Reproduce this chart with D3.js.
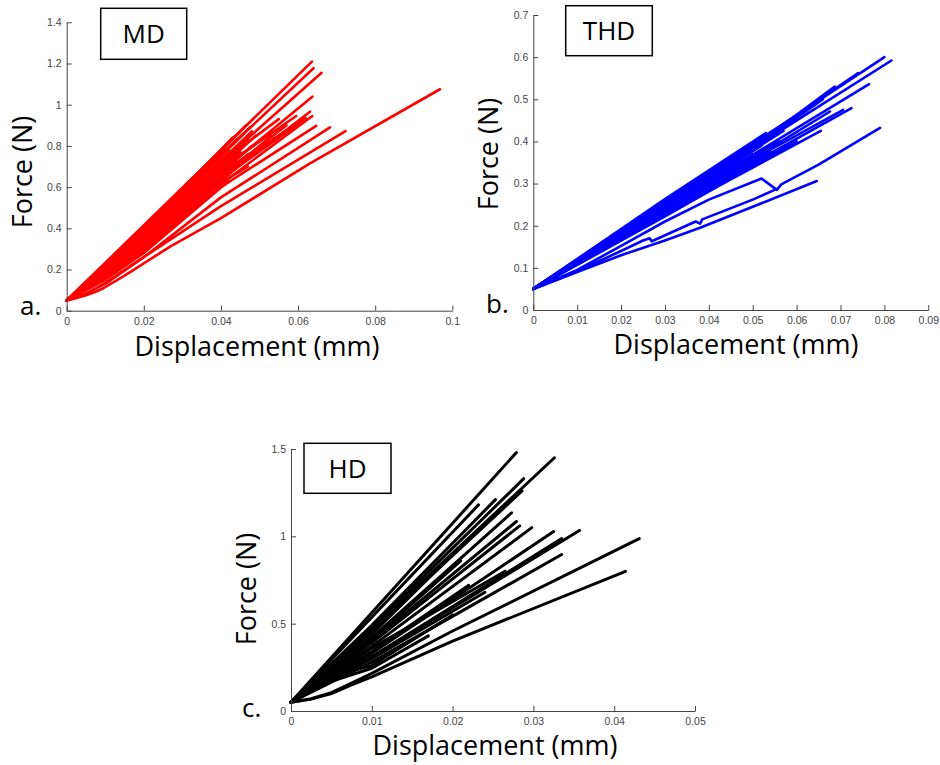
<!DOCTYPE html>
<html><head><meta charset="utf-8">
<script src="https://cdn.jsdelivr.net/npm/d3@7"></script>
<style>body{margin:0;background:#fff} svg{display:block}</style>
</head><body>
<svg id="chart" width="940" height="765"></svg>
<script>
// ---------- DATA ----------
// Panel a (MD): force (N) vs displacement (mm) curves, [x, y]
const mdXTicks = [0, 0.02, 0.04, 0.06, 0.08, 0.1];
const mdXTickLabels = ["0", "0.02", "0.04", "0.06", "0.08", "0.1"];
const mdYTicks = [0, 0.2, 0.4, 0.6, 0.8, 1, 1.2, 1.4];
const mdYTickLabels = ["0", "0.2", "0.4", "0.6", "0.8", "1", "1.2", "1.4"];
const mdCurves = [
  [[0,0.05],[0.0636,1.209]],
  [[0,0.05],[0.03,0.58],[0.064,1.177]],
  [[0,0.05],[0.03,0.555],[0.0661,1.155]],
  [[0,0.05],[0.03,0.52],[0.0637,1.039]],
  [[0,0.05],[0.03,0.49],[0.0631,0.966]],
  [[0,0.05],[0.03,0.475],[0.0637,0.945]],
  [[0,0.05],[0.02,0.30],[0.04,0.60],[0.0647,0.897]],
  [[0,0.05],[0.02,0.41],[0.0465,0.90]],
  [[0,0.05],[0.02,0.405],[0.045,0.87]],
  [[0,0.05],[0.02,0.40],[0.0475,0.89]],
  [[0,0.05],[0.02,0.395],[0.043,0.84]],
  [[0,0.05],[0.02,0.39],[0.044,0.83]],
  [[0,0.05],[0.02,0.385],[0.046,0.86]],
  [[0,0.05],[0.02,0.38],[0.041,0.79]],
  [[0,0.05],[0.02,0.375],[0.042,0.78]],
  [[0,0.05],[0.02,0.37],[0.048,0.87]],
  [[0,0.05],[0.02,0.365],[0.044,0.79]],
  [[0,0.05],[0.02,0.36],[0.045,0.80]],
  [[0,0.05],[0.02,0.355],[0.047,0.83]],
  [[0,0.05],[0.02,0.35],[0.043,0.75]],
  [[0,0.05],[0.02,0.345],[0.049,0.85]],
  [[0,0.05],[0.02,0.34],[0.045,0.77]],
  [[0,0.05],[0.02,0.335],[0.046,0.77]],
  [[0,0.05],[0.02,0.33],[0.048,0.80]],
  [[0,0.05],[0.02,0.325],[0.044,0.72]],
  [[0,0.05],[0.02,0.32],[0.046,0.74]],
  [[0,0.05],[0.01,0.17],[0.02,0.31],[0.047,0.76]],
  [[0,0.05],[0.01,0.165],[0.02,0.305],[0.043,0.69]],
  [[0,0.05],[0.01,0.16],[0.02,0.30],[0.045,0.71]],
  [[0,0.05],[0.01,0.155],[0.02,0.29],[0.04,0.62],[0.047,0.70]],
  [[0,0.05],[0.01,0.15],[0.02,0.28],[0.042,0.63]],
  [[0,0.05],[0.02,0.36],[0.04,0.72],[0.055,0.93]],
  [[0,0.05],[0.02,0.355],[0.04,0.69],[0.0595,0.945]],
  [[0,0.05],[0.02,0.34],[0.04,0.67],[0.062,0.935]],
  [[0,0.05],[0.02,0.33],[0.04,0.655],[0.057,0.90]],
  [[0,0.05],[0.02,0.32],[0.04,0.64],[0.061,0.92]],
  [[0,0.05],[0.02,0.315],[0.04,0.63],[0.053,0.85]],
  [[0,0.05],[0.0025,0.062],[0.005,0.075],[0.0075,0.092],[0.0095,0.109],[0.015,0.17],[0.0268,0.311],[0.04,0.449],[0.0631,0.715],[0.0968,1.075]],
  [[0,0.05],[0.0025,0.063],[0.005,0.08],[0.01,0.135],[0.0182,0.238],[0.0398,0.505],[0.0723,0.872]],
  [[0,0.05],[0.005,0.085],[0.01,0.13],[0.02,0.26],[0.04,0.55],[0.0683,0.89]]
];

// Panel b (THD)
const thdXTicks = [0, 0.01, 0.02, 0.03, 0.04, 0.05, 0.06, 0.07, 0.08, 0.09];
const thdXTickLabels = ["0", "0.01", "0.02", "0.03", "0.04", "0.05", "0.06", "0.07", "0.08", "0.09"];
const thdYTicks = [0, 0.1, 0.2, 0.3, 0.4, 0.5, 0.6, 0.7];
const thdYTickLabels = ["0", "0.1", "0.2", "0.3", "0.4", "0.5", "0.6", "0.7"];
const thdCurves = [
  [[0,0.05],[0.08,0.600]],
  [[0,0.05],[0.04,0.318],[0.0816,0.592]],
  [[0,0.05],[0.04,0.305],[0.0765,0.536]],
  [[0,0.05],[0.04,0.29],[0.0725,0.479]],
  [[0,0.05],[0.04,0.282],[0.0655,0.425]],
  [[0,0.05],[0.04,0.32],[0.074,0.562]],
  [[0,0.05],[0.04,0.31],[0.0687,0.530]],
  [[0,0.05],[0.04,0.30],[0.0706,0.475]],
  [[0,0.05],[0.04,0.295],[0.0676,0.471]],
  [[0,0.05],[0.04,0.31],[0.066,0.50]],
  [[0,0.05],[0.03,0.26],[0.062,0.475]],
  [[0,0.05],[0.03,0.257],[0.060,0.455]],
  [[0,0.05],[0.03,0.254],[0.058,0.44]],
  [[0,0.05],[0.03,0.251],[0.055,0.42]],
  [[0,0.05],[0.03,0.248],[0.057,0.425]],
  [[0,0.05],[0.03,0.245],[0.052,0.39]],
  [[0,0.05],[0.03,0.242],[0.05,0.37]],
  [[0,0.05],[0.03,0.239],[0.056,0.40]],
  [[0,0.05],[0.03,0.236],[0.048,0.35]],
  [[0,0.05],[0.03,0.233],[0.054,0.375]],
  [[0,0.05],[0.03,0.23],[0.05,0.345]],
  [[0,0.05],[0.03,0.227],[0.058,0.39]],
  [[0,0.05],[0.03,0.224],[0.047,0.33]],
  [[0,0.05],[0.03,0.222],[0.06,0.40]],
  [[0,0.05],[0.03,0.263],[0.053,0.42]],
  [[0,0.05],[0.03,0.255],[0.045,0.36]],
  [[0,0.05],[0.02,0.17],[0.047,0.33]],
  [[0,0.05],[0.01,0.095],[0.02,0.152],[0.03,0.21],[0.04,0.262],[0.052,0.312],[0.0555,0.285],[0.0565,0.298],[0.065,0.345],[0.079,0.432]],
  [[0,0.05],[0.01,0.092],[0.02,0.14],[0.025,0.165],[0.0265,0.17],[0.027,0.163],[0.037,0.21],[0.038,0.205],[0.0385,0.215],[0.05,0.262],[0.055,0.285]],
  [[0,0.05],[0.01,0.09],[0.02,0.13],[0.03,0.165],[0.038,0.195],[0.05,0.245],[0.0646,0.306]]
];

// Panel c (HD)
const hdXTicks = [0, 0.01, 0.02, 0.03, 0.04, 0.05];
const hdXTickLabels = ["0", "0.01", "0.02", "0.03", "0.04", "0.05"];
const hdYTicks = [0, 0.5, 1, 1.5];
const hdYTickLabels = ["0", "0.5", "1", "1.5"];
const hdCurves = [
  [[0,0.05],[0.0279,1.48]],
  [[0,0.05],[0.0232,1.18]],
  [[0,0.05],[0.01,0.47],[0.0326,1.45]],
  [[0,0.05],[0.01,0.48],[0.0288,1.33]],
  [[0,0.05],[0.01,0.46],[0.0286,1.26]],
  [[0,0.05],[0.01,0.49],[0.0253,1.21]],
  [[0,0.05],[0.01,0.42],[0.0273,1.135]],
  [[0,0.05],[0.01,0.40],[0.0279,1.085]],
  [[0,0.05],[0.01,0.39],[0.0283,1.06]],
  [[0,0.05],[0.01,0.37],[0.0298,1.05]],
  [[0,0.05],[0.01,0.33],[0.0325,1.027]],
  [[0,0.05],[0.01,0.31],[0.0357,1.033]],
  [[0,0.05],[0.01,0.31],[0.0335,0.987]],
  [[0,0.05],[0.01,0.28],[0.0335,0.896]],
  [[0,0.05],[0.0025,0.07],[0.005,0.105],[0.0075,0.16],[0.01,0.215],[0.02,0.458],[0.0431,0.987]],
  [[0,0.05],[0.0025,0.068],[0.005,0.10],[0.0075,0.15],[0.01,0.195],[0.02,0.40],[0.0414,0.80]],
  [[0,0.05],[0.01,0.36],[0.0265,0.80]],
  [[0,0.05],[0.01,0.34],[0.022,0.72]],
  [[0,0.05],[0.01,0.41],[0.021,0.86]],
  [[0,0.05],[0.01,0.44],[0.019,0.85]],
  [[0,0.05],[0.01,0.30],[0.024,0.68]],
  [[0,0.05],[0.005,0.2],[0.01,0.26],[0.02,0.55]],
  [[0,0.05],[0.005,0.17],[0.01,0.245],[0.017,0.43]]
];

const xLabelText = "Displacement (mm)";
const yLabelText = "Force (N)";

// ---------- DRAWING ----------
const svg = d3.select("#chart");
const labelFont = "'Open Sans', 'Noto Sans', sans-serif";
const tickFont = "'Liberation Sans', Arial, sans-serif";

function panel(cfg) {
  const x = d3.scaleLinear().domain(cfg.xDomain).range(cfg.xRange);
  const y = d3.scaleLinear().domain(cfg.yDomain).range(cfg.yRange);
  const g = svg.append("g");
  const line = d3.line().x(d => x(d[0])).y(d => y(d[1]));

  g.append("g").selectAll("path").data(cfg.curves).join("path")
    .attr("d", line).attr("fill", "none")
    .attr("stroke", cfg.color).attr("stroke-width", cfg.lw)
    .attr("stroke-linejoin", "round").attr("stroke-linecap", "round");

  const xAxis = d3.axisBottom(x).tickValues(cfg.xTicks)
    .tickFormat((d, i) => cfg.xTickLabels[i]).tickSizeInner(-5).tickSizeOuter(0).tickPadding(7);
  const yAxis = d3.axisLeft(y).tickValues(cfg.yTicks)
    .tickFormat((d, i) => cfg.yTickLabels[i]).tickSizeInner(-5).tickSizeOuter(0).tickPadding(5);

  const ga = g.append("g").attr("transform", `translate(0,${cfg.yRange[0]})`).call(xAxis);
  const gb = g.append("g").attr("transform", `translate(${cfg.xRange[0]},0)`).call(yAxis);
  [ga, gb].forEach(a => {
    a.select(".domain").attr("stroke", "#444").attr("stroke-width", 1);
    a.selectAll(".tick line").attr("stroke", "#444");
    a.selectAll(".tick text").attr("fill", "#444").attr("font-size", 10.5).attr("font-family", tickFont);
  });

  // title box
  const b = cfg.box;
  g.append("rect").attr("x", b[0]).attr("y", b[1]).attr("width", b[2]).attr("height", b[3])
    .attr("fill", "#fff").attr("stroke", "#000").attr("stroke-width", 1.5);
  g.append("text").attr("x", b[0] + b[2] / 2).attr("y", b[1] + b[3] / 2 + 9.5)
    .attr("text-anchor", "middle").attr("font-family", labelFont).attr("font-size", 26)
    .attr("fill", "#000").text(cfg.title);

  // axis labels
  g.append("text").attr("x", cfg.xLabel[0]).attr("y", cfg.xLabel[1])
    .attr("text-anchor", "middle").attr("font-family", labelFont).attr("font-size", 27)
    .attr("fill", "#000").text(xLabelText);
  g.append("text").attr("transform", `translate(${cfg.yLabel[0]},${cfg.yLabel[1]}) rotate(-90)`)
    .attr("text-anchor", "middle").attr("font-family", labelFont).attr("font-size", 27)
    .attr("fill", "#000").text(yLabelText);

  // panel letter
  g.append("text").attr("x", cfg.letterPos[0]).attr("y", cfg.letterPos[1])
    .attr("font-family", labelFont).attr("font-size", 26).attr("fill", "#000").text(cfg.letter);
}

panel({
  xDomain: [0, 0.1], xRange: [66.7, 452.3], yDomain: [0, 1.4], yRange: [310.7, 22.3],
  xTicks: mdXTicks, xTickLabels: mdXTickLabels, yTicks: mdYTicks, yTickLabels: mdYTickLabels,
  curves: mdCurves, color: "#ff0000", lw: 2.6,
  box: [100.7, 8.3, 86, 51], title: "MD",
  xLabel: [257, 356], yLabel: [32, 172], letter: "a.", letterPos: [20, 315]
});
panel({
  xDomain: [0, 0.09], xRange: [533.3, 928.3], yDomain: [0, 0.7], yRange: [310, 15],
  xTicks: thdXTicks, xTickLabels: thdXTickLabels, yTicks: thdYTicks, yTickLabels: thdYTickLabels,
  curves: thdCurves, color: "#0000ff", lw: 2.6,
  box: [565.7, 5.7, 86.6, 50], title: "THD",
  xLabel: [736, 354], yLabel: [498, 154], letter: "b.", letterPos: [486, 313]
});
panel({
  xDomain: [0, 0.05], xRange: [291, 695], yDomain: [0, 1.5], yRange: [711, 449],
  xTicks: hdXTicks, xTickLabels: hdXTickLabels, yTicks: hdYTicks, yTickLabels: hdYTickLabels,
  curves: hdCurves, color: "#000000", lw: 3,
  box: [304, 443.3, 87, 50], title: "HD",
  xLabel: [495, 755], yLabel: [256, 589], letter: "c.", letterPos: [242, 717]
});
</script>
</body></html>
